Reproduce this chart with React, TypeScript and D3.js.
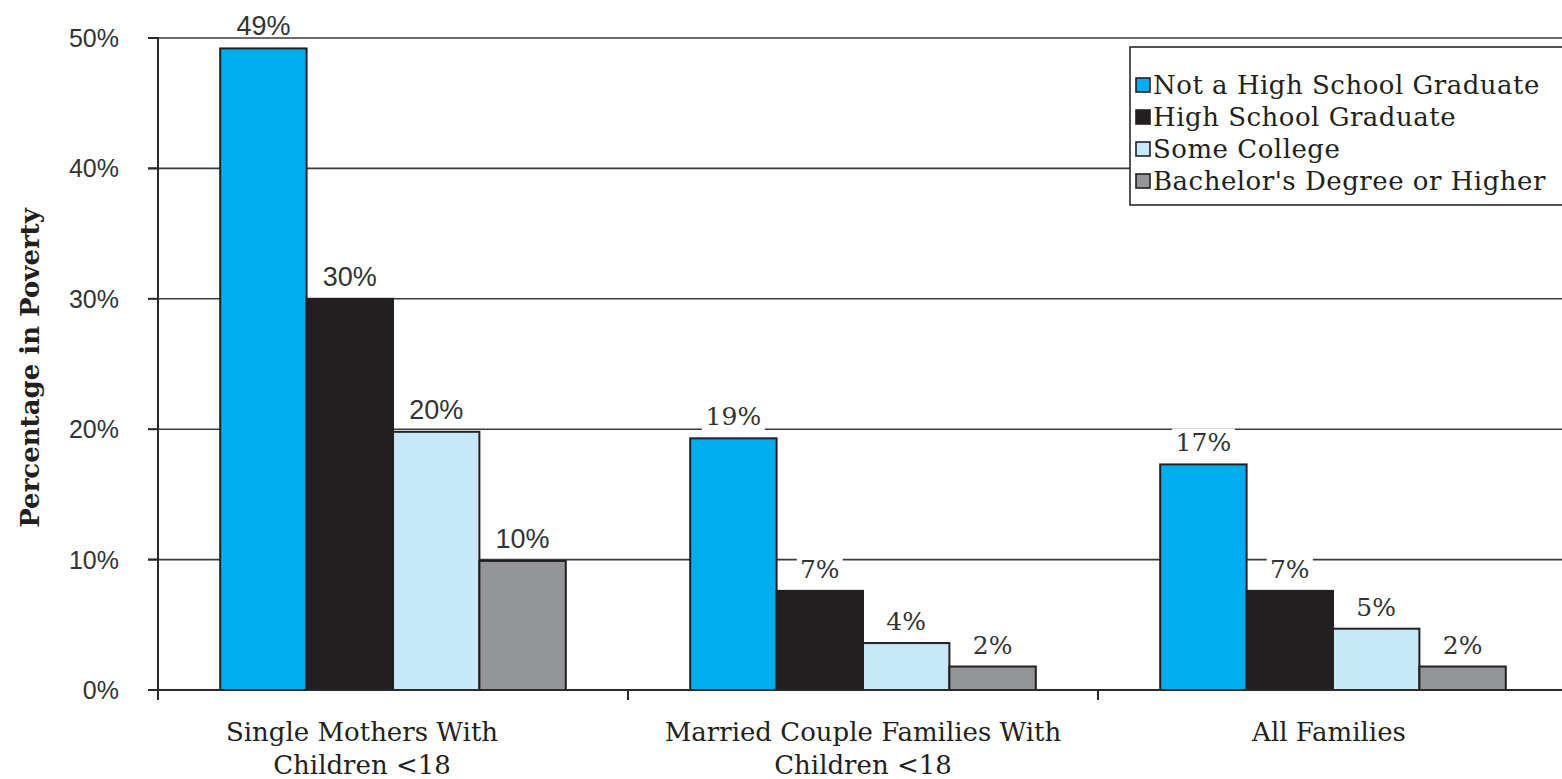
import React from "react";
import * as d3 from "d3";

const categories = ["Single Mothers With|Children <18", "Married Couple Families With|Children <18", "All Families"];
const seriesNames = ["Not a High School Graduate", "High School Graduate", "Some College", "Bachelor's Degree or Higher"];
const notHS = [49.2, 19.3, 17.3];
const hsGrad = [30.0, 7.6, 7.6];
const someCollege = [19.8, 3.6, 4.7];
const bachelor = [9.9, 1.8, 1.8];
const notHSLabels = ["49%", "19%", "17%"];
const hsGradLabels = ["30%", "7%", "7%"];
const someCollegeLabels = ["20%", "4%", "5%"];
const bachelorLabels = ["10%", "2%", "2%"];
const yTicks = [0, 10, 20, 30, 40, 50];
const colors = ["#00aeef", "#231f20", "#c7e8f8", "#939598"];

const W = 1562, H = 779;
const SLAB = "'DejaVu Serif', serif";
const SANS = "'Liberation Sans', Arial, sans-serif";

export default function App() {
  const values = [notHS, hsGrad, someCollege, bachelor];
  const labels = [notHSLabels, hsGradLabels, someCollegeLabels, bachelorLabels];
  const y = d3.scaleLinear().domain([0, 50]).range([690, 38]);
  const x0 = d3.scaleBand<string>().domain(categories).range([158, 1568]).paddingInner(0).paddingOuter(0);
  const x1 = d3.scaleBand<string>().domain(seriesNames).range([0, x0.bandwidth()]).paddingInner(0).paddingOuter(0.72);
  const lineColor = "#3a3a3a";
  const labelOffsets = [-31, 0, -4];

  return (
    <svg width={W} height={H} style={{ position: "absolute", left: 0, top: 0, background: "#fff" }}>
      <rect x={0} y={0} width={W} height={H} fill="#fff" />
      {/* gridlines */}
      {yTicks.filter((t) => t > 0).map((t) => (
        <line key={t} x1={148} x2={W} y1={y(t)} y2={y(t)} stroke={lineColor} strokeWidth={1.6} />
      ))}
      {/* y tick labels */}
      {yTicks.map((t) => (
        <text key={t} x={119} y={y(t) + 9} textAnchor="end" fontFamily={SANS} fontSize={25} fill="#333">{t}%</text>
      ))}
      {/* legend */}
      <g>
        <rect x={1130} y={47} width={460} height={158} fill="#fff" stroke="#2a2a2a" strokeWidth={1.6} />
        {seriesNames.map((s, i) => (
          <g key={s}>
            <rect x={1136} y={78 + i * 32} width={14} height={14} fill={colors[i]} stroke="#231f20" strokeWidth={1.6} />
            <text x={1153} y={94 + i * 32} fontFamily={SLAB} fontSize={26} letterSpacing={0.5} fill="#231f20">{s}</text>
          </g>
        ))}
      </g>
      {/* bars */}
      {categories.map((c, ci) => (
        <g key={c} transform={`translate(${x0(c)},0)`}>
          {seriesNames.map((s, si) => (
            <rect key={s} x={x1(s)} y={y(values[si][ci])} width={x1.bandwidth()} height={y(0) - y(values[si][ci])}
              fill={colors[si]} stroke="#231f20" strokeWidth={2} />
          ))}
        </g>
      ))}
      {/* value labels */}
      {categories.map((c, ci) => (
        <g key={c + "l"} transform={`translate(${x0(c)},0)`}>
          {seriesNames.map((s, si) => {
            const cx = (x1(s) as number) + x1.bandwidth() / 2;
            const by = y(values[si][ci]) - 13;
            const serif = ci > 0;
            const txt = labels[si][ci];
            const w = txt.length * 17 + 12;
            return (
              <g key={s}>
                {serif && <rect x={cx - w / 2} y={by - 23} width={w} height={30} fill="#fff" />}
                <text x={cx} y={by} textAnchor="middle" fontFamily={serif ? SLAB : SANS} fontSize={serif ? 25 : 27} fill="#333">{txt}</text>
              </g>
            );
          })}
        </g>
      ))}
      {/* axes */}
      <line x1={158} x2={158} y1={37} y2={700} stroke="#2a2a2a" strokeWidth={2} />
      <line x1={148} x2={W} y1={690} y2={690} stroke="#2a2a2a" strokeWidth={2.2} />
      {yTicks.map((t) => (
        <line key={"t" + t} x1={148} x2={158} y1={y(t)} y2={y(t)} stroke="#2a2a2a" strokeWidth={2} />
      ))}
      {categories.map((c) => (
        <line key={"xt" + c} x1={x0(c)} x2={x0(c)} y1={690} y2={700} stroke="#2a2a2a" strokeWidth={2} />
      ))}
      {/* category labels */}
      {categories.map((c, ci) => {
        const cx = (x0(c) as number) + x0.bandwidth() / 2 + labelOffsets[ci];
        return (
          <text key={c + "c"} textAnchor="middle" fontFamily={SLAB} fontSize={26} fill="#231f20">
            {c.split("|").map((ln, li) => (
              <tspan key={li} x={cx} y={741 + li * 33}>{ln}</tspan>
            ))}
          </text>
        );
      })}
      {/* y title */}
      <text transform="translate(39,368) rotate(-90)" textAnchor="middle" fontFamily={SLAB} fontWeight="bold" fontSize={26} fill="#231f20">Percentage in Poverty</text>
    </svg>
  );
}
